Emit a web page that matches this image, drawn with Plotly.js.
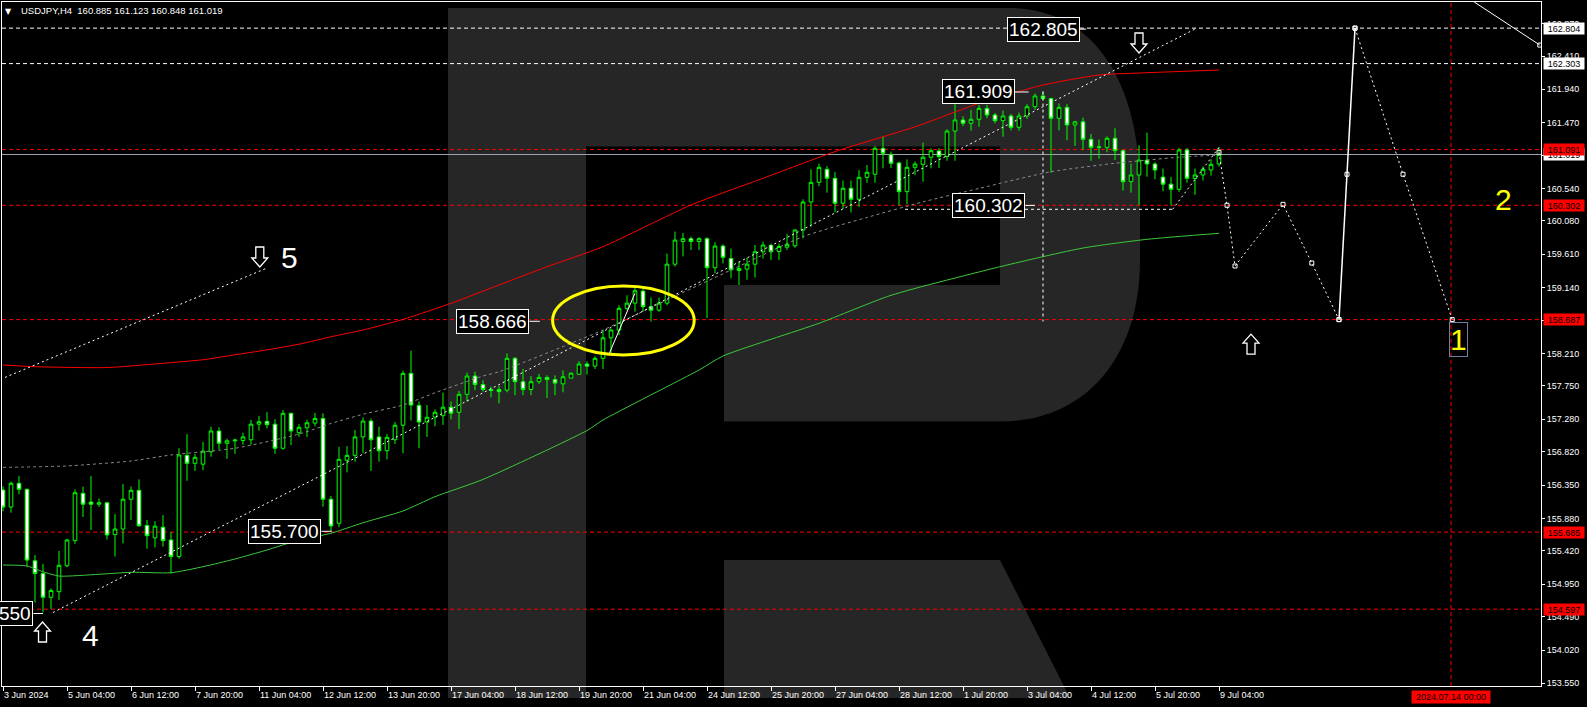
<!DOCTYPE html>
<html><head><meta charset="utf-8">
<script src="https://cdn.plot.ly/plotly-3.0.1.min.js"></script>
<style>html,body{margin:0;padding:0;background:#000;overflow:hidden}#chart{width:1587px;height:707px}</style>
</head><body><div id="chart"></div>
<script>
// ---------------- DATA (USDJPY, H4) ----------------
// bar index 0 = 3 Jun 2024 00:00 ; first visible bar = 5
const FIRST_BAR = 5;
const open = [
156.28,156.04,156.375,156.29,155.28,155.10,154.765,154.844,155.21,155.565,
156.233,156.11,156.08,156.10,155.65,155.73,156.15,156.276,155.78,155.605,
155.755,155.575,155.34,156.77,156.657,156.645,156.82,157.114,156.94,156.975,
156.98,156.99,157.21,157.25,157.21,156.87,157.364,157.09,157.16,157.225,
157.29,156.15,155.81,156.70,156.77,157.03,157.255,157.03,156.835,156.99,
157.195,157.928,157.475,157.24,157.31,157.33,157.45,157.378,157.632,157.89,
157.77,157.70,157.70,157.69,158.14,157.81,157.70,157.81,157.87,157.84,
157.78,157.86,157.915,158.06,158.03,158.14,158.43,158.54,158.846,158.92,
159.09,158.87,158.82,158.92,159.47,159.79,159.83,159.79,159.83,159.42,
159.726,159.55,159.38,159.40,159.47,159.645,159.735,159.65,159.71,159.73,
159.953,160.348,160.626,160.81,160.683,160.33,160.542,160.386,160.697,160.74,
161.106,161.02,160.90,160.494,160.838,160.88,160.98,161.07,160.99,161.35,
161.506,161.46,161.516,161.67,161.577,161.497,161.563,161.403,161.563,161.694,
161.845,161.81,161.53,161.685,161.436,161.48,161.233,161.12,161.12,161.248,
161.073,160.635,160.73,160.94,160.885,160.70,160.60,160.527,161.083,160.68,
160.73,160.80,160.885];
const high = [
156.33,156.40,156.48,156.30,155.36,155.235,154.89,155.42,155.59,156.29,
156.327,156.478,156.16,156.11,155.94,156.365,156.33,156.43,155.857,155.84,
155.925,155.687,156.87,157.071,156.79,156.96,157.175,157.166,157.005,157.005,
157.09,157.27,157.325,157.38,157.28,157.41,157.37,157.21,157.27,157.37,
157.364,156.195,156.89,156.90,157.13,157.307,157.29,157.175,157.07,157.24,
157.965,158.248,157.53,157.48,157.42,157.655,157.53,157.68,157.937,157.95,
157.83,157.74,157.75,158.21,158.16,157.99,157.89,157.92,157.90,157.90,
157.97,157.94,158.10,158.10,158.17,158.54,158.56,158.89,159.03,159.15,
159.12,159.00,159.00,159.62,159.93,159.91,159.86,159.85,159.85,159.78,
159.75,159.69,159.505,159.56,159.74,159.79,159.76,159.76,159.897,159.96,
160.386,160.81,160.89,160.857,160.77,160.65,160.65,160.80,160.87,161.139,
161.27,161.06,160.92,160.95,160.92,161.186,161.106,161.11,161.375,161.73,
161.56,161.65,161.718,161.72,161.605,161.64,161.59,161.61,161.73,161.88,
161.909,161.82,161.74,161.73,161.495,161.54,161.31,161.23,161.275,161.39,
161.09,160.89,161.15,161.327,160.91,160.82,160.70,161.11,161.11,160.82,
160.85,160.95,161.123];
const low = [
155.98,155.96,156.22,155.20,154.69,154.55,154.60,154.727,155.19,155.52,
155.90,155.716,156.04,155.58,155.34,155.528,155.857,155.76,155.45,155.47,
155.48,155.103,155.31,156.41,156.55,156.56,156.75,156.855,156.72,156.79,
156.92,156.92,157.12,157.15,156.79,156.85,156.915,157.03,157.03,157.18,
156.044,155.70,155.755,156.53,156.68,156.80,156.55,156.68,156.714,156.93,
156.80,157.26,156.87,157.03,157.18,157.20,157.28,157.14,157.53,157.69,
157.67,157.59,157.505,157.66,157.62,157.62,157.62,157.78,157.58,157.62,
157.66,157.86,157.91,157.91,157.99,157.99,158.21,158.47,158.82,158.80,
158.80,158.66,158.80,158.89,159.435,159.58,159.67,159.67,158.71,159.34,
159.48,159.27,159.175,159.25,159.28,159.55,159.53,159.53,159.67,159.70,
159.835,160.00,160.57,160.48,160.20,160.25,160.20,160.28,160.62,160.62,
160.824,160.83,160.30,160.32,160.73,160.635,160.824,160.83,160.93,160.93,
161.42,161.356,161.41,161.53,161.46,161.27,161.36,161.356,161.52,161.65,
161.78,160.76,161.36,161.22,161.14,161.085,160.93,160.96,161.05,160.94,
160.51,160.48,160.306,160.705,160.67,160.50,160.30,160.49,160.62,160.45,
160.65,160.72,160.848];
const close = [
156.04,156.375,156.29,155.29,155.10,154.765,154.86,155.217,155.574,156.242,
156.08,156.08,156.10,155.645,155.73,156.15,156.276,155.776,155.635,155.77,
155.565,155.34,156.775,156.657,156.742,156.83,157.114,156.94,156.975,156.985,
157.03,157.21,157.245,157.203,156.87,157.364,157.114,157.166,157.23,157.29,
156.149,155.772,156.714,156.77,157.03,157.255,156.99,156.835,157.024,157.195,
157.928,157.48,157.24,157.307,157.378,157.45,157.365,157.632,157.89,157.77,
157.70,157.685,157.67,158.14,157.81,157.70,157.81,157.87,157.84,157.79,
157.88,157.93,158.06,158.03,158.14,158.43,158.54,158.846,158.92,159.095,
158.87,158.82,158.92,159.47,159.81,159.83,159.79,159.83,159.42,159.726,
159.567,159.39,159.41,159.47,159.645,159.74,159.645,159.72,159.75,159.953,
160.348,160.626,160.838,160.683,160.33,160.542,160.386,160.697,160.768,161.106,
161.036,160.895,160.494,160.838,160.885,160.98,161.073,160.99,161.35,161.506,
161.46,161.516,161.67,161.577,161.497,161.563,161.403,161.563,161.694,161.845,
161.81,161.53,161.685,161.436,161.48,161.233,161.12,161.125,161.248,161.073,
160.635,160.73,160.94,160.885,160.80,160.60,160.527,161.083,160.683,160.73,
160.81,160.88,161.019];

// envelope / moving-average lines (bar index, price)
const upperBandBar = [5,9,18,25,30,34,38,42,46,50,55,61,67,73,80,91,100,109,119,127,135,142,148,157];
const upperBand    = [158.046,158.022,158.01,158.07,158.12,158.19,158.26,158.34,158.445,158.54,158.69,158.917,159.176,159.434,159.717,160.306,160.683,161.06,161.41,161.742,162.0,162.142,162.174,162.212];
const lowerBandBar = [5,8,10,12,17,21,26,30,34,38,42,46,50,55,59,65,78,80,92,95,107,116,130,140,148,157];
const lowerBand    = [155.221,155.207,155.126,155.065,155.09,155.118,155.112,155.197,155.306,155.433,155.574,155.669,155.818,155.984,156.186,156.43,157.12,157.269,157.975,158.173,158.635,159.03,159.444,159.698,159.821,159.906];
const midLineBar   = [5,13,21,26,34,42,46,50,55,59,65,67,80,88,96,105,113,120,127,136,144,152,157];
const midLine      = [156.60,156.62,156.69,156.775,156.87,157.07,157.22,157.35,157.48,157.654,157.89,157.95,158.54,158.964,159.387,159.858,160.13,160.35,160.54,160.776,160.895,160.98,161.012];

// trend lines
const trendMainBar = [11.25,154.25], trendMain = [154.55,162.805];
const trendUpperBar = [5.25,38.1],  trendUpper = [157.87,159.42];
const lastSwingBar = [151.2,157],   lastSwing = [160.245,161.12];
const wave1Bar = [80.75,84],        wave1 = [158.20,159.06];

// forecast path
const fcDotBar1 = [157,158,159,165,168.6,172], fcDot1 = [161.05,160.302,159.444,160.315,159.486,158.687];
const fcSolidBar = [172,173,174],              fcSolid = [158.687,160.74,162.804];
const fcDotBar2 = [174,180,186.15],            fcDot2 = [162.804,160.74,158.687];
const fcTopBar = [187.6,197.1],                fcTop = [163.27,162.565];

// levels
const whiteLevels = [162.804,162.303];
const redLevels = [161.091,160.302,158.687,155.685,154.597];
const bidPrice = 161.019;
const targetBar = 186;           // 2024.07.14 00:00
const targetLabel = '2024.07.14 00:00';

// axis ticks
const xTickBars = [5,13,21,29,37,45,53,61,69,77,85,93,101,109,117,125,133,141,149,157];
const xTickLabels = ['3 Jun 2024','5 Jun 04:00','6 Jun 12:00','7 Jun 20:00','11 Jun 04:00','12 Jun 12:00','13 Jun 20:00','17 Jun 04:00','18 Jun 12:00','19 Jun 20:00','21 Jun 04:00','24 Jun 12:00','25 Jun 20:00','27 Jun 04:00','28 Jun 12:00','1 Jul 20:00','3 Jul 04:00','4 Jul 12:00','5 Jul 20:00','9 Jul 04:00'];
const yTickValues = [162.870,162.410,161.940,161.470,161.010,160.540,160.080,159.610,159.140,158.680,158.210,157.750,157.280,156.820,156.350,155.880,155.420,154.950,154.490,154.020,153.550];

// price call-outs: [text, right-edge bar, price, leader end bar]
const callouts = [
  ['162.805',139.6,162.79,140.4],
  ['161.909',131.5,161.902,133.2],
  ['160.302',132.8,160.30,134.0],
  ['158.666',70.8,158.663,72.1],
  ['155.700',44.8,155.697,46.1],
  ['154.550',8.8,154.536,10.0]
];

// ---------------- RENDER ----------------
const W = 1587, H = 707;
const M = {l:2, r:46, t:2, b:21};
function P(x, y){ // pixel -> paper
  return ((x - M.l)/(W - M.l - M.r)).toFixed(5) + ',' + ((H - M.b - y)/(H - M.t - M.b)).toFixed(5);
}
const barIndex = open.map((_, k) => FIRST_BAR + k);

const GREEN = '#00ff00';
const traces = [
  {type:'scatter', mode:'lines', x:upperBandBar, y:upperBand, line:{color:'#ff0000', width:1, shape:'spline', smoothing:0.6}, hoverinfo:'skip'},
  {type:'scatter', mode:'lines', x:lowerBandBar, y:lowerBand, line:{color:'#3cc83c', width:1, shape:'spline', smoothing:0.6}, hoverinfo:'skip'},
  {type:'scatter', mode:'lines', x:midLineBar, y:midLine, line:{color:'#8a8a8a', width:1, dash:'3px,3px', shape:'spline', smoothing:0.6}, hoverinfo:'skip'},
  {type:'scatter', mode:'lines', x:trendMainBar, y:trendMain, line:{color:'#ffffff', width:1, dash:'2px,3px'}, hoverinfo:'skip'},
  {type:'scatter', mode:'lines', x:trendUpperBar, y:trendUpper, line:{color:'#ffffff', width:1, dash:'2px,3px'}, hoverinfo:'skip'},
  {type:'scatter', mode:'lines', x:lastSwingBar, y:lastSwing, line:{color:'#ffffff', width:1, dash:'2px,3px'}, hoverinfo:'skip'},
  {type:'scatter', mode:'lines', x:wave1Bar, y:wave1, line:{color:'#ffffff', width:1}, hoverinfo:'skip'},
  {type:'candlestick', x:barIndex, open:open, high:high, low:low, close:close,
   increasing:{line:{color:GREEN, width:1}, fillcolor:'#000000'},
   decreasing:{line:{color:GREEN, width:1}, fillcolor:'#ffffff'},
   whiskerwidth:0, hoverinfo:'skip'},
  {type:'scatter', mode:'lines+markers', x:fcDotBar1, y:fcDot1, line:{color:'#ffffff', width:1, dash:'2px,3px'}, marker:{symbol:'square-open', size:4, color:'#ffffff'}, hoverinfo:'skip'},
  {type:'scatter', mode:'lines+markers', x:fcSolidBar, y:fcSolid, line:{color:'#ffffff', width:1.5}, marker:{symbol:'square-open', size:4, color:'#ffffff'}, hoverinfo:'skip'},
  {type:'scatter', mode:'lines+markers', x:fcDotBar2, y:fcDot2, line:{color:'#ffffff', width:1, dash:'2px,3px'}, marker:{symbol:'square-open', size:4, color:'#ffffff'}, hoverinfo:'skip'},
  {type:'scatter', mode:'lines+markers', x:fcTopBar, y:fcTop, line:{color:'#ffffff', width:1}, marker:{symbol:'square-open', size:4, color:'#ffffff'}, hoverinfo:'skip'}
];

const WM = '#262626';
const shapes = [
  {type:'path', xref:'paper', yref:'paper', layer:'below', fillcolor:WM, line:{width:0},
   path:`M${P(448,8)}L${P(586,8)}L${P(586,698)}L${P(448,698)}Z`},
  {type:'path', xref:'paper', yref:'paper', layer:'below', fillcolor:WM, line:{width:0},
   path:`M${P(586,8)}L${P(1010,8)}C${P(1092,8)} ${P(1140,80)} ${P(1140,190)}L${P(1140,260)}C${P(1140,355)} ${P(1088,421.5)} ${P(1000,421.5)}L${P(724,421.5)}L${P(724,285)}L${P(1000,285)}L${P(1000,146.5)}L${P(586,146.5)}Z`},
  {type:'path', xref:'paper', yref:'paper', layer:'below', fillcolor:WM, line:{width:0},
   path:`M${P(724,560)}L${P(1000,560)}L${P(1070,698)}L${P(724,698)}Z`}
];
whiteLevels.forEach(v => shapes.push({type:'line', xref:'paper', x0:0, x1:1, yref:'y', y0:v, y1:v, layer:'below', line:{color:'#ffffff', width:1, dash:'4px,3px'}}));
redLevels.forEach(v => shapes.push({type:'line', xref:'paper', x0:0, x1:1, yref:'y', y0:v, y1:v, layer:'below', line:{color:'#ff0000', width:1, dash:'4px,3px'}}));
shapes.push({type:'line', xref:'paper', x0:0, x1:1, yref:'y', y0:bidPrice, y1:bidPrice, layer:'below', line:{color:'#9aa3ae', width:1}});
shapes.push({type:'line', xref:'x', x0:targetBar, x1:targetBar, yref:'paper', y0:0, y1:1, layer:'below', line:{color:'#ff0000', width:1, dash:'4px,3px'}});
// vertical and horizontal helper lines
shapes.push({type:'line', xref:'x', x0:135, x1:135, yref:'y', y0:161.909, y1:158.66, line:{color:'#ffffff', width:1, dash:'3px,3px'}});
shapes.push({type:'line', xref:'x', x0:117.75, x1:151.2, yref:'y', y0:160.245, y1:160.245, line:{color:'#ffffff', width:1, dash:'3px,3px'}});
// ellipse
shapes.push({type:'circle', xref:'x', yref:'y', x0:73.7, x1:91.4, y0:158.187, y1:159.162, line:{color:'#ffff00', width:3}});
// leader lines
callouts.forEach(c => shapes.push({type:'line', xref:'x', yref:'y', x0:c[1], x1:c[3], y0:c[2], y1:c[2], line:{color:'#ffffff', width:1}}));
// hollow arrows
function arrow(bar, price, dir){
  const s = dir;  // 1 up, -1 down
  const pts = [[0,10],[8,1],[4,1],[4,-10],[-4,-10],[-4,1],[-8,1]].map(p => p[0] + ',' + (p[1]*s));
  return {type:'path', xref:'x', yref:'y', xsizemode:'pixel', ysizemode:'pixel', xanchor:bar, yanchor:price,
          path:'M' + pts.join('L') + 'Z', line:{color:'#ffffff', width:1.3}, fillcolor:'rgba(0,0,0,0)'};
}
shapes.push(arrow(9.94,154.275,1));
shapes.push(arrow(37.1,159.571,-1));
shapes.push(arrow(147,162.594,-1));
shapes.push(arrow(161,158.34,1));

const FONT = 'Liberation Sans, Arial, sans-serif';
const annotations = [];
callouts.forEach(c => annotations.push({xref:'x', yref:'y', x:c[1], y:c[2], xanchor:'right', yanchor:'middle', text:c[0], showarrow:false,
  font:{family:FONT, size:19, color:'#ffffff'}, bgcolor:'#000000', bordercolor:'#ffffff', borderwidth:1, borderpad:1}));
// wave labels
annotations.push({xref:'x', yref:'y', x:40.75, y:159.56, text:'5', showarrow:false, font:{family:FONT, size:30, color:'#ffffff'}});
annotations.push({xref:'x', yref:'y', x:15.9, y:154.23, text:'4', showarrow:false, font:{family:FONT, size:30, color:'#ffffff'}});
annotations.push({xref:'x', yref:'y', x:192.5, y:160.39, text:'2', showarrow:false, font:{family:FONT, size:30, color:'#ffff00'}});
annotations.push({xref:'x', yref:'y', x:186.9, y:158.41, text:'1', showarrow:false, font:{family:FONT, size:30, color:'#ffff00'}, bordercolor:'#6f7fa8', borderwidth:1, borderpad:0});
// axis price boxes
function axisBox(v, bg, fg){
  return {xref:'paper', yref:'y', x:1, xshift:2, y:v, xanchor:'left', yanchor:'middle', text:v.toFixed(3), showarrow:false,
    width:38, height:9, bgcolor:bg, borderpad:1, font:{family:FONT, size:9, color:fg}};
}
annotations.push(axisBox(bidPrice, '#ffffff', '#000000'));
whiteLevels.forEach(v => annotations.push(axisBox(v, '#ffffff', '#000000')));
redLevels.forEach(v => annotations.push(axisBox(v, '#ff0000', '#000000')));
annotations.push({xref:'x', yref:'paper', x:targetBar, y:0, yshift:-4, xanchor:'center', yanchor:'top', text:targetLabel, showarrow:false,
  width:76, height:10, bgcolor:'#ff0000', borderpad:1, font:{family:FONT, size:9, color:'#000000'}});
// header
annotations.push({xref:'paper', yref:'paper', x:(8-M.l)/(W-M.l-M.r), y:(H-M.b-11)/(H-M.t-M.b), xanchor:'center', yanchor:'middle', text:'\u25BC', showarrow:false, font:{family:'DejaVu Sans', size:8, color:'#ffffff'}});
annotations.push({xref:'paper', yref:'paper', x:(19-M.l)/(W-M.l-M.r), y:(H-M.b-10.5)/(H-M.t-M.b), xanchor:'left', yanchor:'middle',
  text:'USDJPY,H4\u00a0\u00a0' + [open[open.length-1], high[high.length-1], low[low.length-1], close[close.length-1]].map(v=>v.toFixed(3)).join('\u00a0'),
  showarrow:false, font:{family:FONT, size:9.5, color:'#ffffff'}});

const layout = {
  width:W, height:H, margin:M, paper_bgcolor:'#000000', plot_bgcolor:'#000000',
  showlegend:false, hovermode:false, dragmode:false, boxgap:0.35,
  font:{family:FONT, size:9, color:'#ffffff'},
  xaxis:{range:[4.875,197.25], showgrid:false, zeroline:false, showline:true, mirror:true, linecolor:'#ffffff', linewidth:1,
    ticks:'outside', ticklen:4, tickcolor:'#ffffff', tickvals:xTickBars, ticktext:xTickLabels, ticklabelposition:'outside right',
    tickangle:0, tickfont:{family:FONT, size:9, color:'#ffffff'}, rangeslider:{visible:false}, fixedrange:true},
  yaxis:{side:'right', range:[153.512,163.173], showgrid:false, zeroline:false, showline:true, mirror:true, linecolor:'#ffffff', linewidth:1,
    ticks:'outside', ticklen:3, tickcolor:'#ffffff', tickvals:yTickValues, ticktext:yTickValues.map(v=>v.toFixed(3)),
    tickfont:{family:FONT, size:9, color:'#ffffff'}, fixedrange:true},
  shapes:shapes, annotations:annotations
};
Plotly.newPlot('chart', traces, layout, {staticPlot:true, displayModeBar:false});
</script></body></html>
